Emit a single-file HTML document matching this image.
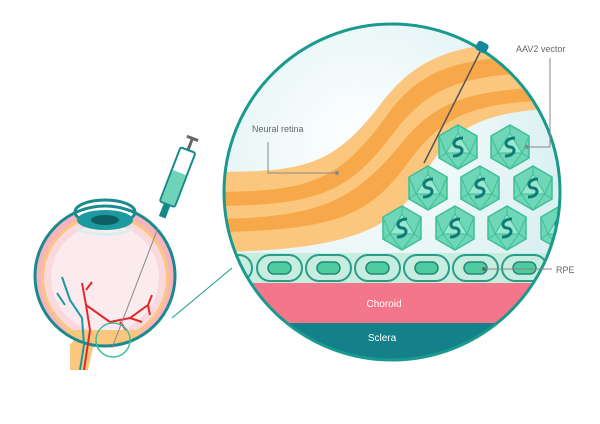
<!DOCTYPE html>
<html><head><meta charset="utf-8"><style>
html,body{margin:0;padding:0;background:#fff;}
svg{display:block;}
text{font-family:"Liberation Sans",sans-serif;}
</style></head><body>
<svg width="600" height="424" viewBox="0 0 600 424" xmlns="http://www.w3.org/2000/svg">
<defs>
<clipPath id="c"><circle cx="392" cy="192" r="168"/></clipPath>
<clipPath id="e"><circle cx="105" cy="276" r="70"/></clipPath>
<radialGradient id="bg" cx="0.4" cy="0.35" r="0.7"><stop offset="0" stop-color="#ffffff"/><stop offset="1" stop-color="#d6eef0"/></radialGradient>
<g id="v">
<polygon points="0,-22 19,-11 19,11 0,22 -19,11 -19,-11" fill="#6fd7b8" stroke="#3dbf95" stroke-width="1.5"/>
<polygon points="0,-14 12,6 -12,6" fill="#9ae6cf" stroke="#3dbf95"/>
<path d="M0,-22 L0,-14 M19,-11 L12,6 M-19,-11 L-12,6 M0,22 L12,6 M0,22 L-12,6 M19,11 L12,6 M-19,11 L-12,6" stroke="#3dbf95"/>
<path d="M5,-9 C-6,-9 -6,0 0,0 C6,0 6,9 -5,9" fill="none" stroke="#0f7b78" stroke-width="3"/>
</g>
</defs>
<circle cx="392" cy="192" r="168" fill="url(#bg)"/>
<g clip-path="url(#c)">
<path d="M200,172 C300,172 330,170 380,105 C420,52 460,40 580,40 L580,108 C480,108 450,128 420,182 C395,228 350,252 200,252 Z" fill="#fbc77e"/>
<path d="M200,192 C305,192 335,186 385,118 C423,64 462,55 580,55 L580,72 C468,72 432,82 392,135 C345,198 310,206 200,206 Z" fill="#f7a84a"/>
<path d="M200,219 C315,219 350,205 400,145 C436,100 470,87 580,87 L580,100 C478,100 446,112 410,160 C370,215 340,232 200,232 Z" fill="#f7a84a"/>
<rect x="200" y="253" width="380" height="30" fill="#c7ece0"/>
<g fill="#c7ece0" stroke="#2a9d8a" stroke-width="2">
<rect x="207" y="255" width="45" height="26" rx="13"/>
<rect x="257" y="255" width="45" height="26" rx="13"/>
<rect x="306" y="255" width="45" height="26" rx="13"/>
<rect x="355" y="255" width="45" height="26" rx="13"/>
<rect x="404" y="255" width="45" height="26" rx="13"/>
<rect x="453" y="255" width="45" height="26" rx="13"/>
<rect x="502" y="255" width="45" height="26" rx="13"/>
<rect x="551" y="255" width="45" height="26" rx="13"/>
</g>
<g fill="#4fcba0" stroke="#1f8a75" stroke-width="1.5">
<rect x="218" y="262" width="23" height="12" rx="6"/>
<rect x="268" y="262" width="23" height="12" rx="6"/>
<rect x="317" y="262" width="23" height="12" rx="6"/>
<rect x="366" y="262" width="23" height="12" rx="6"/>
<rect x="415" y="262" width="23" height="12" rx="6"/>
<rect x="464" y="262" width="23" height="12" rx="6"/>
<rect x="513" y="262" width="23" height="12" rx="6"/>
</g>
<rect x="200" y="283" width="380" height="40" fill="#f4768a"/>
<rect x="200" y="323" width="380" height="50" fill="#13808a"/>
<use href="#v" x="458" y="147"/><use href="#v" x="510" y="147"/>
<use href="#v" x="428" y="188"/><use href="#v" x="480" y="188"/><use href="#v" x="533" y="188"/>
<use href="#v" x="402" y="228"/><use href="#v" x="455" y="228"/><use href="#v" x="507" y="228"/><use href="#v" x="560" y="228"/>
</g>
<circle cx="392" cy="192" r="168" fill="none" stroke="#1a9a8e" stroke-width="3"/>
<line x1="482" y1="48" x2="424" y2="163" stroke="#555" stroke-width="1.5"/>
<rect x="476" y="42" width="12" height="10" rx="3" fill="#138a9a" transform="rotate(28 482 47)"/>
<text x="252" y="132" font-size="9" fill="#666">Neural retina</text>
<path d="M268,142 L268,173 L337,173" fill="none" stroke="#888" stroke-width="1"/>
<circle cx="337" cy="173" r="2" fill="#888"/>
<text x="516" y="52" font-size="9" fill="#666">AAV2 vector</text>
<path d="M550,58 L550,147 L527,147" fill="none" stroke="#888" stroke-width="1"/>
<circle cx="527" cy="147" r="2" fill="#888"/>
<path d="M484,269 L552,269" stroke="#888" stroke-width="1"/>
<circle cx="484" cy="269" r="2" fill="#666"/>
<text x="556" y="273" font-size="9" fill="#666">RPE</text>
<text x="384" y="307" font-size="10" fill="#fff" text-anchor="middle">Choroid</text>
<text x="382" y="341" font-size="10" fill="#fff" text-anchor="middle">Sclera</text>
<line x1="172" y1="318" x2="232" y2="268" stroke="#1a9a8e" stroke-width="1"/>
<!-- syringe -->
<g transform="translate(193,137) rotate(21)">
<rect x="-6" y="0" width="12" height="3" fill="#666"/>
<rect x="-1.5" y="2" width="3" height="12" fill="#666"/>
<rect x="-8" y="14" width="16" height="58" rx="2" fill="#fff" stroke="#138a8a" stroke-width="2"/>
<rect x="-7" y="38" width="14" height="33" fill="#6fd3b8"/>
<rect x="-3.5" y="72" width="7" height="14" fill="#138a8a"/>
</g>
<!-- eye -->
<circle cx="105" cy="276" r="70" fill="#f8b4be"/>
<circle cx="105" cy="278" r="64" fill="#fbc77e"/>
<circle cx="105" cy="278" r="61" fill="#f9d8de"/>
<circle cx="105" cy="278" r="54" fill="#fbeaee"/>
<g clip-path="url(#e)"><rect x="60" y="330" width="80" height="20" fill="#fbc77e"/></g>
<path d="M70,345 L82,330 L96,335 L88,370 L70,370 Z" fill="#fbc77e"/>
<ellipse cx="105" cy="212" rx="30" ry="12" fill="#fff" stroke="#1a8a8e" stroke-width="3"/>
<ellipse cx="105" cy="220" rx="28" ry="10" fill="#1a9a9e"/>
<ellipse cx="105" cy="220" rx="14" ry="5" fill="#0d5f63"/>
<path d="M77,229 Q105,240 133,229" fill="none" stroke="#d8eff0" stroke-width="3"/>
<circle cx="105" cy="276" r="70" fill="none" stroke="#1a8a8e" stroke-width="3"/>
<path d="M62,277 L70,300 L82,318 L84,345 L80,370 M57,293 L65,305" fill="none" stroke="#1a9a9e" stroke-width="2"/>
<path d="M82,283 L86,305 L90,330 L84,370 M86,290 L92,282 M86,305 L110,322 L130,318 L148,305 M130,318 L142,322 M148,305 L152,295 M148,305 L150,315 M120,322 L126,330" fill="none" stroke="#e02a2a" stroke-width="2"/>
<line x1="158" y1="228" x2="112" y2="348" stroke="#888" stroke-width="1"/>
<circle cx="113" cy="340" r="17" fill="none" stroke="#3dbf9a" stroke-width="1.5"/>
</svg>
</body></html>
